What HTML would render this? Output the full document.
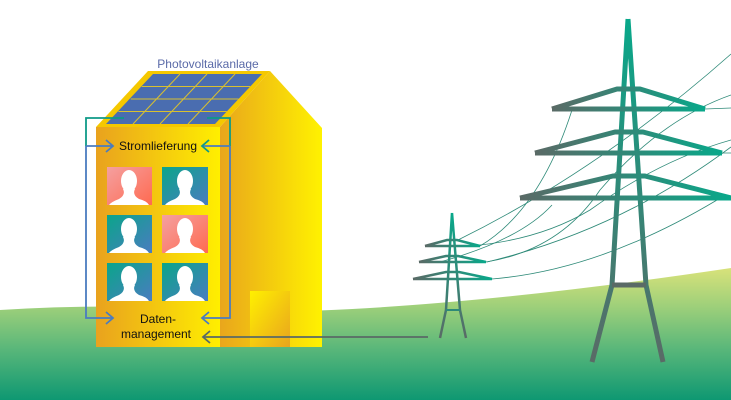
<!DOCTYPE html>
<html><head><meta charset="utf-8"><style>html,body{margin:0;padding:0;background:#fff}svg{display:block}</style></head>
<body>
<svg width="731" height="400" viewBox="0 0 731 400" xmlns="http://www.w3.org/2000/svg" font-family="Liberation Sans, sans-serif">
<defs>
<linearGradient id="gr" x1="0" y1="0" x2="0" y2="1">
<stop offset="0" stop-color="#d8e27a"/><stop offset="0.3" stop-color="#9ccf7a"/><stop offset="0.6" stop-color="#5cb87a"/><stop offset="1" stop-color="#0e9872"/></linearGradient>
<linearGradient id="front" x1="0" y1="0" x2="1" y2="0"><stop offset="0" stop-color="#e9a21e"/><stop offset="1" stop-color="#ffef00"/></linearGradient>
<linearGradient id="side" x1="0" y1="0" x2="1" y2="0"><stop offset="0" stop-color="#e9a61c"/><stop offset="1" stop-color="#fff200"/></linearGradient>
<linearGradient id="door" x1="0" y1="0" x2="1" y2="1"><stop offset="0" stop-color="#fff000"/><stop offset="1" stop-color="#e9a41e"/></linearGradient>
<linearGradient id="pink" x1="0" y1="0" x2="1" y2="1"><stop offset="0" stop-color="#f4a0a0"/><stop offset="1" stop-color="#ff6a50"/></linearGradient>
<linearGradient id="teal" x1="0" y1="0" x2="1" y2="1"><stop offset="0" stop-color="#0aa58a"/><stop offset="1" stop-color="#4a7cc0"/></linearGradient>
<linearGradient id="tw" x1="0" y1="0" x2="1" y2="0"><stop offset="0" stop-color="#5a6a66"/><stop offset="1" stop-color="#08a88a"/></linearGradient>
<linearGradient id="twv" x1="0" y1="0" x2="0" y2="1"><stop offset="0" stop-color="#08a88a"/><stop offset="1" stop-color="#5a6a66"/></linearGradient>
<g id="person"><ellipse cx="22" cy="14" rx="8" ry="11"/><path d="M16 22 Q19 28 12 32 Q4 35 2 38 L42 38 Q40 34 32 32 Q25 28 28 22 Z"/></g>
</defs>
<path d="M0 310 Q120 302 260 312 Q450 310 731 268 L731 400 L0 400 Z" fill="url(#gr)"/>
<!-- wires -->
<g fill="none" stroke="#2e8a78" stroke-width="0.8">
<path d="M458 240 Q600 170 731 54"/>
<path d="M480 246 Q540 210 572 110"/>
<path d="M486 262 Q560 250 600 190 Q660 120 731 95"/>
<path d="M470 246 Q540 240 590 210 Q660 160 731 140"/>
<path d="M487 262 Q620 230 731 147"/>
<path d="M492 279 Q600 270 717 200"/>
<path d="M440 262 Q520 240 552 205"/>
<path d="M705 109 L731 108 M722 153 L731 153"/>
</g>
<!-- big tower -->
<g fill="none" stroke-linejoin="round">
<path d="M628 19 L612 285 L592 362 M628 19 L646 285 L663 362" stroke="url(#twv)" stroke-width="5"/>
<path d="M612 285 L646 285" stroke="#5a6a66" stroke-width="5"/>
<g stroke="url(#tw)" stroke-width="5">
<path d="M552 109 L705 109 M552 109 L617 89 L640 89 L705 109"/>
<path d="M535 153 L722 153 M535 153 L615 132 L643 132 L722 153"/>
<path d="M520 198 L731 198 M520 198 L613 176 L645 176 L731 198"/>
</g>
</g>
<!-- small tower -->
<g fill="none">
<path d="M452 213 L446 310 L440 338 M452 213 L460 310 L466 338" stroke="url(#twv)" stroke-width="2.5"/>
<path d="M446 310 L460 310" stroke="#2e8a78" stroke-width="2"/>
<g stroke="url(#tw)" stroke-width="2.5">
<path d="M425 246 L480 246 M425 246 L447 240 L457 240 L480 246"/>
<path d="M419 262 L486 262 M419 262 L446 256 L458 256 L486 262"/>
<path d="M413 279 L492 279 M413 279 L446 272 L459 272 L492 279"/>
</g>
</g>
<!-- house -->
<polygon points="220,127 270,71 322,128 322,347 220,347" fill="url(#side)"/>
<polygon points="96,127 220,127 270,71 148,71" fill="#f5c800"/>
<polygon points="106,124 215,124 262,74 153,74" fill="#4a6db0"/>
<g stroke="#d8c030" stroke-width="1">
<line x1="118.5" y1="111.5" x2="226.7" y2="111.5"/>
<line x1="130.7" y1="99" x2="238.5" y2="99"/>
<line x1="141.8" y1="86.5" x2="250.2" y2="86.5"/>
<line x1="133" y1="124" x2="180" y2="74"/>
<line x1="160" y1="124" x2="207" y2="74"/>
<line x1="188" y1="124" x2="235" y2="74"/>
</g>
<rect x="96" y="127" width="124" height="220" fill="url(#front)"/>
<rect x="250" y="291" width="40" height="56" fill="url(#door)"/>
<g>
<rect x="107" y="167" width="45" height="38" fill="url(#pink)"/>
<rect x="162" y="167" width="46" height="38" fill="url(#teal)"/>
<rect x="107" y="215" width="45" height="38" fill="url(#teal)"/>
<rect x="162" y="215" width="46" height="38" fill="url(#pink)"/>
<rect x="107" y="263" width="45" height="38" fill="url(#teal)"/>
<rect x="162" y="263" width="46" height="38" fill="url(#teal)"/>
<g fill="#fff">
<use href="#person" x="107" y="167"/><use href="#person" x="163" y="167"/>
<use href="#person" x="107" y="215"/><use href="#person" x="163" y="215"/>
<use href="#person" x="107" y="263"/><use href="#person" x="163" y="263"/>
</g>
</g>
<!-- connectors -->
<g fill="none" stroke-width="1.8">
<path d="M124 118 L86 118 L86 146" stroke="#0e9a88"/>
<path d="M86 146 L86 318 L112 318" stroke="#4a7cc0"/>
<path d="M86 146 L112 146" stroke="#4a7cc0"/>
<path d="M106 140 L113 146 L106 152" stroke="#4a7cc0"/>
<path d="M106 312 L113 318 L106 324" stroke="#4a7cc0"/>
<path d="M207 118 L230 118 L230 146" stroke="#0e9a88"/>
<path d="M230 146 L230 318 L203 318 M230 146 L203 146" stroke="#4a7cc0"/>
<path d="M209 140 L202 146 L209 152" stroke="#0e9a88"/>
<path d="M209 312 L202 318 L209 324" stroke="#4a7cc0"/>
<path d="M428 337 L204 337" stroke="#5a6a66"/>
<path d="M210 331 L203 337 L210 343" stroke="#5a6a66"/>
</g>
<g fill="#111" font-size="12" text-anchor="middle">
<text x="158" y="150">Stromlieferung</text>
<text x="158" y="323">Daten-</text>
<text x="156" y="338">management</text>
</g>
<text x="208" y="68" fill="#5a6aa8" font-size="12" text-anchor="middle">Photovoltaikanlage</text>
</svg>
</body></html>
